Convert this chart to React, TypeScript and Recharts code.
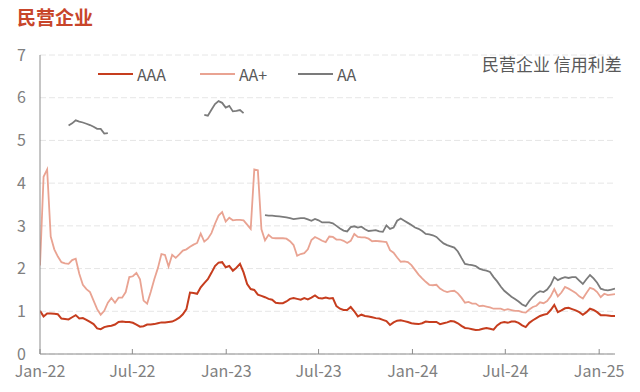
import React from "react";
import { LineChart, Line, XAxis, YAxis, CartesianGrid } from "recharts";

// weekly observations starting 2022-01-01 (day offset = index * 7)
const START_LABEL = "2022-01-01";
const STEP_DAYS = 7;

const tickDays = [0, 181, 365, 546, 730, 912, 1096];
const tickLabels = ["Jan-22", "Jul-22", "Jan-23", "Jul-23", "Jan-24", "Jul-24", "Jan-25"];
const yTicks = [0, 1, 2, 3, 4, 5, 6, 7];

const aaa = [
  1.01, 0.88, 0.95, 0.95, 0.94, 0.93, 0.83, 0.82, 0.81, 0.86,
  0.91, 0.83, 0.84, 0.8, 0.75, 0.7, 0.6, 0.58, 0.63, 0.65,
  0.66, 0.69, 0.75, 0.76, 0.75, 0.75, 0.73, 0.69, 0.64, 0.65,
  0.69, 0.69, 0.7, 0.72, 0.74, 0.74, 0.75, 0.76, 0.8, 0.85,
  0.93, 1.05, 1.44, 1.43, 1.41, 1.56, 1.66, 1.75, 1.9, 2.06,
  2.14, 2.15, 2.03, 2.06, 1.95, 2.02, 2.11, 1.91, 1.64, 1.52,
  1.5, 1.39, 1.36, 1.33, 1.29, 1.27, 1.2, 1.19, 1.19, 1.23,
  1.29, 1.31, 1.29, 1.27, 1.31, 1.28, 1.32, 1.37, 1.31, 1.3,
  1.32, 1.3, 1.31, 1.12, 1.06, 1.03, 1.03, 1.1, 1.0, 0.88,
  0.92, 0.89, 0.88, 0.86, 0.84, 0.83, 0.8, 0.77, 0.68, 0.74,
  0.78, 0.79, 0.77, 0.75, 0.72, 0.71, 0.7, 0.72, 0.76, 0.75,
  0.75, 0.75, 0.7, 0.72, 0.74, 0.77, 0.76, 0.72, 0.66, 0.61,
  0.6, 0.58, 0.56, 0.57, 0.59, 0.61, 0.59, 0.57, 0.67, 0.73,
  0.75, 0.73, 0.76, 0.76, 0.73, 0.67, 0.63, 0.73, 0.79, 0.84,
  0.89, 0.92, 0.94, 1.03, 1.15, 0.98, 1.02, 1.07, 1.08, 1.05,
  1.02, 0.98, 0.92, 0.98, 1.06, 1.03, 0.98, 0.91, 0.91, 0.9,
  0.89, 0.89,
];

const aaPlus = [
  2.07, 4.15, 4.32, 2.75, 2.45, 2.28, 2.15, 2.12, 2.11, 2.2,
  2.23, 1.88, 1.62, 1.52, 1.45, 1.25, 1.05, 0.92, 1.01, 1.2,
  1.31, 1.2, 1.32, 1.32, 1.45, 1.8, 1.82, 1.9, 1.75, 1.25,
  1.18, 1.45, 1.75, 2.01, 2.34, 2.32, 2.05, 2.32, 2.25, 2.33,
  2.42, 2.45, 2.51, 2.56, 2.6, 2.82, 2.63, 2.7, 2.83, 3.05,
  3.24, 3.32, 3.1, 3.19, 3.13, 3.14, 3.14, 3.13, 3.03, 2.93,
  4.32, 4.3, 2.92, 2.66, 2.79, 2.72, 2.71, 2.71, 2.71, 2.7,
  2.64, 2.55, 2.3, 2.34, 2.36, 2.45, 2.67, 2.74, 2.7, 2.65,
  2.62, 2.75, 2.74, 2.68, 2.68, 2.65, 2.6, 2.65, 2.81, 2.74,
  2.73, 2.73, 2.7, 2.64, 2.65, 2.64, 2.63, 2.62, 2.43, 2.37,
  2.26, 2.16, 2.17, 2.15, 2.08, 1.97, 1.86, 1.77, 1.69, 1.62,
  1.61, 1.62, 1.53, 1.48, 1.45, 1.47, 1.48, 1.42, 1.32, 1.2,
  1.22, 1.18, 1.18, 1.12, 1.13, 1.11, 1.09, 1.06, 1.06, 1.06,
  1.03, 1.05, 1.03, 1.01, 1.01, 0.98, 0.97, 1.04, 1.1, 1.13,
  1.21, 1.19, 1.24, 1.35, 1.52, 1.35, 1.44, 1.57, 1.53, 1.48,
  1.43, 1.35, 1.3, 1.43, 1.55, 1.52, 1.45, 1.33, 1.41, 1.38,
  1.39, 1.4,
];

const aa = [
  null, null, null, null, null, null, null, null, 5.35, 5.4,
  5.47, 5.44, 5.42, 5.39, 5.36, 5.32, 5.27, 5.27, 5.16, 5.17,
  null, null, null, null, null, null, null, null, null, null,
  null, null, null, null, null, null, null, null, null, null,
  null, null, null, null, null, null, 5.6, 5.58, 5.72, 5.85,
  5.92, 5.88, 5.77, 5.81, 5.68, 5.69, 5.71, 5.64, null, null,
  null, null, null, 3.25, 3.24, 3.24, 3.23, 3.22, 3.21, 3.2,
  3.18, 3.16, 3.17, 3.18, 3.18, 3.15, 3.12, 3.16, 3.13, 3.08,
  3.08, 3.08, 3.06, 3.0, 2.94, 2.89, 2.87, 2.97, 2.99, 2.96,
  2.98, 2.92, 2.88, 2.89, 2.9, 2.87, 2.86, 3.01, 2.93, 2.96,
  3.12, 3.17, 3.12, 3.07, 3.02, 2.96, 2.93, 2.88, 2.81, 2.8,
  2.78, 2.74, 2.66, 2.59, 2.55, 2.52, 2.49, 2.4, 2.25, 2.11,
  2.09, 2.08, 2.06, 2.0, 1.97, 1.95, 1.92, 1.8, 1.7, 1.58,
  1.48, 1.41, 1.34, 1.29, 1.23, 1.16, 1.12, 1.24, 1.34, 1.42,
  1.47, 1.45, 1.51, 1.62, 1.8, 1.73, 1.77, 1.8, 1.78, 1.8,
  1.8, 1.72, 1.64, 1.75, 1.85, 1.77, 1.67, 1.53, 1.5, 1.49,
  1.51, 1.53,
];

const series = [
  { key: "AAA", color: "#C63D1E", width: 2, legendLeft: 98 },
  { key: "AA+", color: "#E9A392", width: 1.8, legendLeft: 200 },
  { key: "AA", color: "#7B7B7B", width: 1.8, legendLeft: 298 },
];

const data = aaa.map((v, i) => ({
  day: i * STEP_DAYS,
  AAA: v,
  "AA+": aaPlus[i],
  AA: aa[i],
}));

const FONT = '"Noto Sans CJK SC", "Noto Sans", sans-serif';

export default function App() {
  return (
    <div
      style={{
        position: "absolute",
        left: 0,
        top: 0,
        width: 640,
        height: 392,
        background: "#fff",
        fontFamily: FONT,
      }}
      data-start={START_LABEL}
    >
      <div style={{ position: "absolute", left: 17, top: 6, fontSize: 19, fontWeight: 700, color: "#C8452A", lineHeight: "22px" }}>
        民营企业
      </div>
      <div style={{ position: "absolute", left: 482, top: 55, fontSize: 17, color: "#595959", lineHeight: "17px", whiteSpace: "nowrap" }}>
        民营企业 信用利差
      </div>
      {series.map((s) => (
        <div key={s.key} style={{ position: "absolute", left: s.legendLeft, top: 64, height: 20, display: "flex", alignItems: "center" }}>
          <span style={{ width: 35, height: 2.5, background: s.color, display: "inline-block", marginRight: 4 }} />
          <span style={{ fontSize: 16, color: "#595959" }}>{s.key}</span>
        </div>
      ))}
      <LineChart
        width={640}
        height={392}
        data={data}
        margin={{ top: 55, right: 25, bottom: 8, left: 0 }}
        style={{ position: "absolute", left: 0, top: 0 }}
      >
        <CartesianGrid vertical={false} stroke="#E6E6E6" strokeDasharray="6 3" />
        <XAxis
          dataKey="day"
          type="number"
          domain={[0, 1127]}
          ticks={tickDays}
          tickFormatter={(d: number) => tickLabels[tickDays.indexOf(d)] ?? ""}
          height={30}
          axisLine={{ stroke: "#8C8C8C" }}
          tickLine={{ stroke: "#8C8C8C" }}
          tickSize={-5}
          tickMargin={17}
          tick={{ fontSize: 16, fill: "#808080", fontFamily: FONT }}
          interval={0}
          allowDataOverflow
        />
        <YAxis
          domain={[0, 7]}
          ticks={yTicks}
          width={40}
          axisLine={{ stroke: "#8C8C8C" }}
          tickLine={false}
          tickMargin={8}
          tick={{ fontSize: 16, fill: "#808080", fontFamily: FONT }}
          interval={0}
        />
        {series.map((s) => (
          <Line
            key={s.key}
            type="linear"
            dataKey={s.key}
            stroke={s.color}
            strokeWidth={s.width}
            dot={false}
            activeDot={false}
            isAnimationActive={false}
            connectNulls={false}
          />
        ))}
      </LineChart>
    </div>
  );
}
